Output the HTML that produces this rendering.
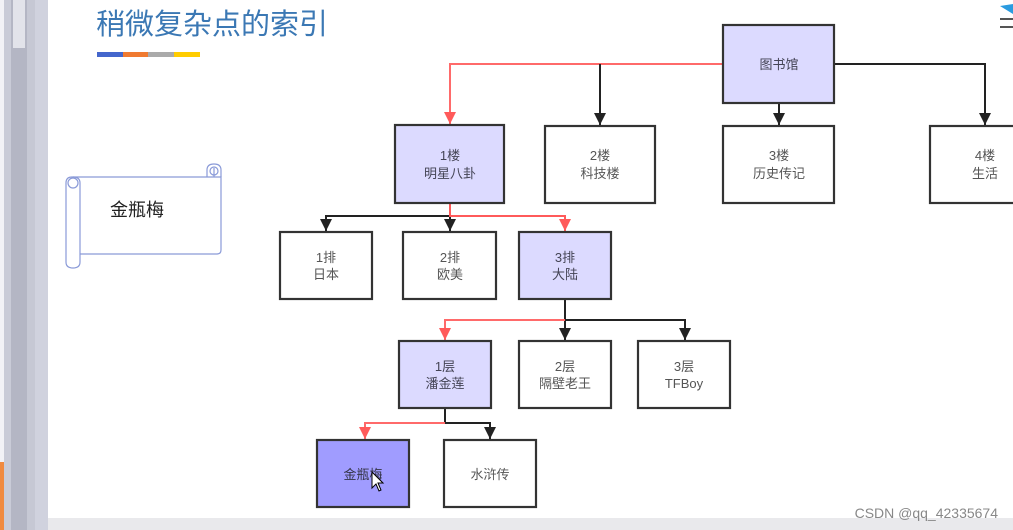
<!DOCTYPE html>
<html><head><meta charset="utf-8"><style>
html,body{margin:0;padding:0;background:#fff;}
body{width:1013px;height:530px;overflow:hidden;position:relative;font-family:"Liberation Sans","Noto Sans CJK SC",sans-serif;}
</style></head><body>
<svg width="1013" height="530" viewBox="0 0 1013 530" xmlns="http://www.w3.org/2000/svg" style="position:absolute;left:0;top:0;font-family:'Liberation Sans','Noto Sans CJK SC',sans-serif">
<defs>
<marker id="ab" viewBox="0 0 10 10" refX="5" refY="10" markerWidth="12" markerHeight="13" markerUnits="userSpaceOnUse"><path d="M0,0 L10,0 L5,10 Z" fill="#222"/></marker>
<marker id="ar" viewBox="0 0 10 10" refX="5" refY="10" markerWidth="12" markerHeight="13" markerUnits="userSpaceOnUse"><path d="M0,0 L10,0 L5,10 Z" fill="#ff5a5a"/></marker>
</defs>
<rect x="0" y="0" width="48" height="530" fill="#d0d2de"/>
<rect x="0" y="0" width="4" height="530" fill="#f2f2f6"/>
<rect x="4" y="0" width="7" height="530" fill="#c9cbd7"/>
<rect x="11" y="0" width="16" height="530" fill="#b4b6c4"/>
<rect x="13" y="0" width="12" height="48" fill="#e2e3ea"/>
<rect x="27" y="0" width="8" height="530" fill="#c6c8d4"/>
<rect x="0" y="462" width="4" height="68" fill="#f08a40"/>
<rect x="48" y="518" width="965" height="12" fill="#e9e9ec"/>
<text x="96" y="34" font-size="29" fill="#3b78b4">稍微复杂点的索引</text>
<rect x="97" y="52" width="26" height="5" fill="#4466cc"/>
<rect x="123" y="52" width="25" height="5" fill="#f07a30"/>
<rect x="148" y="52" width="26" height="5" fill="#aaaaaa"/>
<rect x="174" y="52" width="26" height="5" fill="#ffcc00"/>
<path d="M1000,6 L1013,4 L1013,14 Z" fill="#2a9be0"/>
<rect x="1000" y="18" width="13" height="2" fill="#555"/>
<rect x="1000" y="26" width="13" height="2" fill="#555"/>
<g fill="none" stroke="#8a9ad8" stroke-width="1.2">
<path d="M72,177 L214,177 L214,168 M214,177 L221,177 L221,250 Q221,254 217,254 L80,254"/>
<path d="M72,177 Q66,177 66,183 L66,262 Q66,268 73,268 Q80,268 80,262 L80,183 Q80,177 73,177"/>
<circle cx="73" cy="183" r="5"/>
<path d="M207,177 L207,170 Q207,164 214,164 Q221,164 221,170 L221,177"/>
<circle cx="214" cy="171" r="4"/>
</g>
<text x="110" y="216" font-size="18" fill="#222">金瓶梅</text>
<g fill="none" stroke-width="2">
<path d="M723,64 L450,64 L450,124" stroke="#ff6a6a" marker-end="url(#ar)"/>
<path d="M600,64 L600,125" stroke="#222" marker-end="url(#ab)"/>
<path d="M834,64 L985,64 L985,125" stroke="#222" marker-end="url(#ab)"/>
<path d="M779,103 L779,125" stroke="#222" marker-end="url(#ab)"/>
<path d="M450,216 L326,216 L326,231" stroke="#222" marker-end="url(#ab)"/>
<path d="M450,216 L450,231" stroke="#222" marker-end="url(#ab)"/>
<path d="M450,203 L450,216 L565,216 L565,231" stroke="#ff5a5a" marker-end="url(#ar)"/>
<path d="M565,299 L565,320 L685,320 L685,340" stroke="#222" marker-end="url(#ab)"/>
<path d="M565,320 L565,340" stroke="#222" marker-end="url(#ab)"/>
<path d="M565,320 L445,320 L445,340" stroke="#ff6a6a" marker-end="url(#ar)"/>
<path d="M445,408 L445,423 L490,423 L490,439" stroke="#222" marker-end="url(#ab)"/>
<path d="M445,423 L365,423 L365,439" stroke="#ff6a6a" marker-end="url(#ar)"/>
</g>
<g stroke="#333" stroke-width="2.2">
<rect x="723" y="25" width="111" height="78" fill="#dcdaff"/>
<rect x="395" y="125" width="109" height="78" fill="#dcdaff"/>
<rect x="545" y="126" width="110" height="77" fill="#fff"/>
<rect x="723" y="126" width="111" height="77" fill="#fff"/>
<rect x="930" y="126" width="95" height="77" fill="#fff"/>
<rect x="280" y="232" width="92" height="67" fill="#fff"/>
<rect x="403" y="232" width="93" height="67" fill="#fff"/>
<rect x="519" y="232" width="92" height="67" fill="#dcdaff"/>
<rect x="399" y="341" width="92" height="67" fill="#dcdaff"/>
<rect x="519" y="341" width="92" height="67" fill="#fff"/>
<rect x="638" y="341" width="92" height="67" fill="#fff"/>
<rect x="317" y="440" width="92" height="67" fill="#a09cff"/>
<rect x="444" y="440" width="92" height="67" fill="#fff"/>
</g>
<g font-size="13" text-anchor="middle">
<text x="779" y="69" fill="#445">图书馆</text>
<text x="450" y="160" fill="#445">1楼</text><text x="450" y="178" fill="#445">明星八卦</text>
<text x="600" y="160" fill="#555">2楼</text><text x="600" y="178" fill="#555">科技楼</text>
<text x="779" y="160" fill="#555">3楼</text><text x="779" y="178" fill="#555">历史传记</text>
<text x="985" y="160" fill="#555">4楼</text><text x="985" y="178" fill="#555">生活</text>
<text x="326" y="262" fill="#555">1排</text><text x="326" y="279" fill="#555">日本</text>
<text x="450" y="262" fill="#555">2排</text><text x="450" y="279" fill="#555">欧美</text>
<text x="565" y="262" fill="#445">3排</text><text x="565" y="279" fill="#445">大陆</text>
<text x="445" y="371" fill="#445">1层</text><text x="445" y="388" fill="#445">潘金莲</text>
<text x="565" y="371" fill="#555">2层</text><text x="565" y="388" fill="#555">隔壁老王</text>
<text x="684" y="371" fill="#555">3层</text><text x="684" y="388" fill="#555">TFBoy</text>
<text x="363" y="479" fill="#334">金瓶梅</text>
<text x="490" y="479" fill="#555">水浒传</text>
</g>
<path d="M372,472 L372,488 L376,484 L379,491 L381,490 L378,483 L383,483 Z" fill="#fff" stroke="#000" stroke-width="1"/>
<text x="998" y="518" font-size="14" text-anchor="end" fill="#888">CSDN @qq_42335674</text>
</svg>
</body></html>
